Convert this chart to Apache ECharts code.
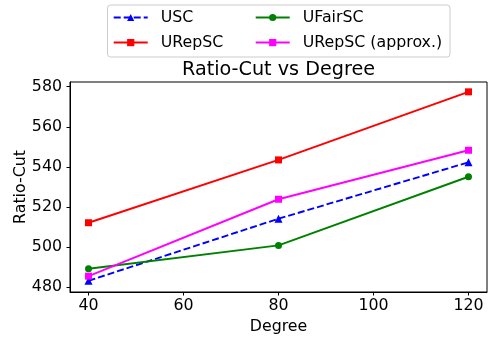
<!DOCTYPE html>
<html>
<head>
<meta charset="utf-8">
<script src="https://cdn.jsdelivr.net/npm/echarts@6/dist/echarts.min.js"></script>
<style>html,body{margin:0;padding:0;background:#fff;}#c{width:488px;height:339px;}</style>
</head>
<body>
<div id="c"></div>
<script>
const degrees = [40, 80, 120];
const usc = [483.3, 514.2, 542.3];
const urepsc = [512.2, 543.5, 577.4];
const ufairsc = [489.3, 500.9, 535.1];
const urepscApprox = [485.6, 523.9, 548.3];
const xTicks = [40, 60, 80, 100, 120];
const yTicks = [480, 500, 520, 540, 560, 580];

const FONT = 'DejaVu Sans';
const pairs = (ys) => degrees.map((d, i) => [d, ys[i]]);
const chart = echarts.init(document.getElementById('c'), null, {renderer: 'canvas'});

function mkSeries(name, ys, color, symbol, size, dashed) {
  return {
    name: name, type: 'line', data: pairs(ys),
    symbol: symbol, symbolSize: size, showSymbol: true,
    lineStyle: {color: color, width: 1.9, type: dashed ? [7, 3] : 'solid'},
    itemStyle: {color: color},
    emphasis: {disabled: true}, animation: false
  };
}

const legendCommon = {
  orient: 'vertical', padding: 0, itemWidth: 34, itemHeight: 9, itemGap: 9.1,
  textStyle: {fontFamily: FONT, fontSize: 15.8, color: '#000', padding: [0, 0, 0, 8]},
  selectedMode: false
};

chart.setOption({
  animation: false,
  textStyle: {fontFamily: FONT},
  title: {
    text: 'Ratio-Cut vs Degree', left: 278.5, textAlign: 'center', top: 61, padding: 0,
    textStyle: {fontFamily: FONT, fontSize: 19.2, fontWeight: 'normal', color: '#000'}
  },
  graphic: [{
    type: 'rect', z: -1,
    shape: {x: 107.5, y: 5, width: 342.5, height: 52, r: 3},
    style: {fill: '#fff', stroke: '#cccccc', lineWidth: 1}
  }],
  legend: [
    Object.assign({left: 112.7, top: 9.5, data: ['USC', 'URepSC']}, legendCommon),
    Object.assign({left: 254.7, top: 9.5, data: ['UFairSC', 'URepSC (approx.)']}, legendCommon)
  ],
  grid: {left: 70, top: 82, right: 1, bottom: 47, show: true, borderColor: '#000', borderWidth: 1,
         containLabel: false, outerBoundsMode: 'none'},
  xAxis: {
    type: 'value', min: 36.1, max: 123.9,
    name: 'Degree', nameLocation: 'middle', nameGap: 26,
    nameTextStyle: {fontFamily: FONT, fontSize: 15.8, color: '#000'},
    axisLine: {show: true, lineStyle: {color: '#000', width: 1}},
    axisTick: {show: true, length: 3.5, inside: false, customValues: xTicks, lineStyle: {color: '#000'}},
    axisLabel: {customValues: xTicks, margin: 6, fontFamily: FONT, fontSize: 15.8, color: '#000'},
    splitLine: {show: false}
  },
  yAxis: {
    type: 'value', min: 477.7, max: 582.3,
    name: 'Ratio-Cut', nameLocation: 'middle', nameGap: 41, nameMoveOverlap: false,
    nameTextStyle: {fontFamily: FONT, fontSize: 15.8, color: '#000'},
    axisLine: {show: true, lineStyle: {color: '#000', width: 1}},
    axisTick: {show: true, length: 3.5, inside: false, customValues: yTicks, lineStyle: {color: '#000'}},
    axisLabel: {customValues: yTicks, margin: 8, fontFamily: FONT, fontSize: 15.8, color: '#000'},
    splitLine: {show: false}
  },
  series: [
    mkSeries('USC', usc, '#0000ff', 'triangle', 8, true),
    mkSeries('URepSC', urepsc, '#ff0000', 'rect', 7, false),
    mkSeries('UFairSC', ufairsc, '#008000', 'circle', 7, false),
    mkSeries('URepSC (approx.)', urepscApprox, '#ff00ff', 'rect', 7, false)
  ]
});
</script>
</body>
</html>
